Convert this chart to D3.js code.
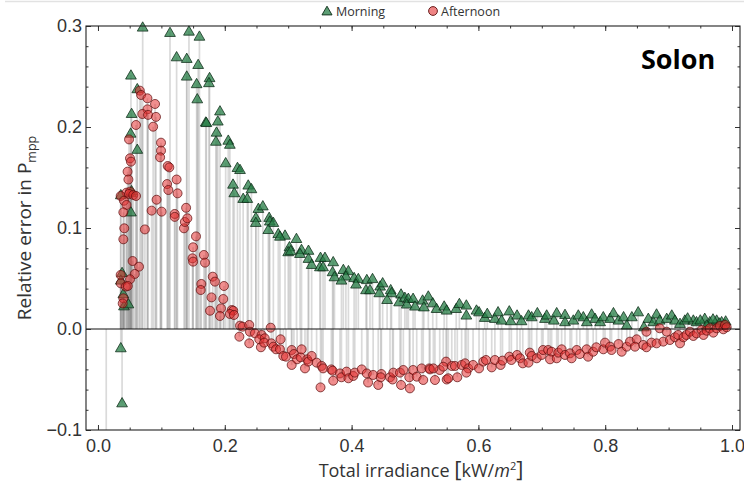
<!DOCTYPE html>
<html><head><meta charset="utf-8">
<script src="https://cdn.jsdelivr.net/npm/d3@7"></script>
<style>
html,body{margin:0;padding:0;background:#fff;}
svg{display:block;font-family:"Open Sans","DejaVu Sans",sans-serif;}
</style></head>
<body><svg id="c" width="744" height="492"></svg>
<script>
const seriesNames = ["Morning","Afternoon"];
const xTickLabels = [0.0,0.2,0.4,0.6,0.8,1.0];
const yTickLabels = [-0.1,0.0,0.1,0.2,0.3];

const morningX = [0.013,0.036,0.038,0.036,0.052,0.052,0.038,0.036,0.040,0.041,0.048,0.0705,0.052,0.062,0.053,0.0515,0.062,0.053,
0.1136,0.124,0.1435,0.160,0.140,0.140,0.158,0.1556,0.176,0.175,0.1566,0.1924,0.189,0.170,0.171,0.187,0.186,0.2055,0.208,0.2014,0.220,0.224,0.213,0.215,0.237,0.242,0.229,0.2355,0.253,0.260,0.249,0.249,0.270,0.271,0.2766,0.2686,0.2844,0.295,0.287,0.313,0.302,0.300,0.304,0.321,0.3186,0.332,0.332,0.337,0.351,0.358,0.350,0.355,0.371,0.370,0.373,0.387,0.395,0.391,0.384,0.404,0.4106,0.407,0.424,0.433,0.4227,0.429,0.445,0.449,0.4437,0.4617,0.463,0.456,0.478,0.475,0.484,0.4895,0.487,0.497,0.500,0.512,0.521,0.514,0.528,0.534,0.546,0.550,
0.565,0.570,0.581,0.581,0.597,0.601,0.610,0.614,0.626,0.631,0.6366,0.6487,0.651,0.661,0.668,0.679,0.684,0.693,0.705,0.7077,0.719,0.7235,0.7366,0.7366,0.7497,0.7576,0.7655,0.771,0.7786,0.784,0.792,0.797,0.8076,0.813,0.821,0.829,0.834,0.842,0.852,0.861,0.868,0.876,0.881,0.886,0.897,0.905,0.910,0.918,0.9256,0.939,0.944,0.957,0.965,0.9758,0.9836,0.989,0.93,0.95,0.97,0.98,0.96,0.99];
const morningY = [-0.15,-0.0185,-0.073,0.133,0.135,0.116,0.056,0.0485,0.035,0.023,0.025,0.299,0.2515,0.238,0.2135,0.194,0.178,0.137,
0.2937,0.2696,0.295,0.290,0.268,0.2505,0.262,0.243,0.249,0.244,0.228,0.216,0.206,0.205,0.2045,0.195,0.186,0.187,0.183,0.1647,0.160,0.158,0.1435,0.135,0.1426,0.139,0.1294,0.1294,0.1195,0.122,0.1105,0.1056,0.1106,0.107,0.1056,0.0986,0.0946,0.093,0.092,0.0897,0.0815,0.0766,0.0776,0.0788,0.0749,0.078,0.070,0.064,0.071,0.071,0.0617,0.0617,0.0667,0.0568,0.0518,0.059,0.0578,0.0525,0.0485,0.051,0.050,0.0446,0.049,0.050,0.039,0.039,0.0426,0.0458,0.036,0.039,0.036,0.0293,0.0347,0.027,0.0314,0.0304,0.0248,0.0304,0.0228,0.0287,0.0327,0.022,0.026,0.0204,0.0228,0.0188,
0.0204,0.0253,0.0238,0.0139,0.0188,0.0171,0.0116,0.0155,0.0106,0.0171,0.0089,0.018,0.0083,0.0139,0.0083,0.0139,0.0122,0.0162,0.0106,0.0139,0.0089,0.0162,0.0145,0.0073,0.0089,0.0139,0.0122,0.0073,0.0149,0.0106,0.0073,0.0122,0.0106,0.0162,0.0089,0.0122,0.004,0.0122,0.0171,0.0023,0.0106,0.0073,0.0149,0.0089,0.0106,0.0139,0.0089,0.0056,0.0089,0.0089,0.0073,0.0106,0.0073,0.0089,0.0073,0.005,0.011,0.009,0.010,0.006,0.004,0.008];

const afternoonX = [0.066,0.068,0.078,0.090,0.078,0.070,0.079,0.0915,0.087,0.060,0.049,0.0994,0.0994,0.098,0.0505,0.052,0.110,0.1125,0.0467,0.048,0.109,0.124,0.111,0.1255,0.0924,0.045,0.0505,
0.0358,0.049,0.0557,0.060,0.041,0.045,0.040,0.0415,0.040,0.0546,0.0647,0.058,0.0505,0.0358,0.036,0.044,0.047,0.040,0.039,0.074,0.0846,0.1004,0.121,0.121,0.1356,0.137,0.141,0.139,0.1546,0.150,0.149,0.150,0.167,0.1688,0.181,0.1845,0.163,0.162,0.179,0.1987,0.1976,0.1767,0.194,0.1924,0.211,0.2134,0.208,0.2145,0.224,0.223,
0.228,0.2386,0.2397,0.2476,0.2386,0.258,0.2544,0.263,0.2724,0.257,0.262,0.2735,0.2766,0.288,0.2808,0.287,0.2923,0.2965,0.3055,0.309,0.3055,0.314,0.3196,0.3212,0.3265,0.330,0.3317,0.337,0.3448,0.3527,0.351,0.355,0.368,0.371,0.370,0.3817,0.384,0.392,0.395,0.4027,0.405,0.416,0.424,0.426,0.434,0.442,0.447,0.446,0.4606,0.4646,0.4658,0.478,0.4763,0.4816,0.492,0.491,0.497,0.5027,0.5105,0.513,0.5225,0.5237,0.5315,0.539,0.549,0.550,
0.529,0.5446,0.5525,0.558,0.563,0.5667,0.5736,0.579,0.584,0.581,0.5916,0.601,0.6077,0.612,0.621,0.626,0.635,0.638,0.6487,0.652,0.661,0.6656,0.670,0.679,0.681,0.684,0.692,0.6997,0.702,0.710,0.7155,0.713,0.7235,0.726,0.7313,0.7366,0.7445,0.747,0.755,0.760,0.7707,0.773,0.781,0.786,0.797,0.7997,0.8076,0.810,0.821,0.826,0.834,0.839,0.8496,0.847,0.860,0.865,0.865,0.873,0.881,0.886,0.8916,0.897,0.902,0.910,0.915,0.918,0.9235,0.928,0.9337,0.939,0.944,0.952,0.955,0.960,0.965,0.9705,0.9758,0.981,0.9863,0.989,0.9916];
const afternoonY = [0.236,0.2317,0.2284,0.2228,0.2175,0.2129,0.212,0.210,0.2003,0.202,0.1877,0.1845,0.1766,0.170,0.169,0.1657,0.1614,0.160,0.1558,0.148,0.1435,0.148,0.1376,0.1343,0.128,0.135,0.136,
0.1317,0.1337,0.1327,0.1317,0.127,0.1228,0.1155,0.0997,0.0888,0.0673,0.0617,0.0545,0.0492,0.0535,0.0452,0.042,0.0426,0.0304,0.0253,0.0986,0.1172,0.1162,0.1139,0.111,0.0997,0.106,0.1096,0.120,0.0917,0.0809,0.070,0.0667,0.0733,0.0657,0.0518,0.0469,0.0446,0.0386,0.0313,0.0426,0.0297,0.0181,0.0204,0.0129,0.0188,0.0181,0.0149,0.0139,0.0033,-0.0076,
0.0023,0.004,-0.0027,-0.0043,-0.0142,-0.0059,-0.0102,-0.0092,0.0013,-0.0181,-0.0135,-0.0142,-0.0175,-0.0102,-0.0201,-0.0201,-0.0267,-0.0274,-0.0208,-0.0248,-0.0356,-0.030,-0.028,-0.0201,-0.039,-0.030,-0.0323,-0.0267,-0.0333,-0.0366,-0.0578,-0.039,-0.040,-0.0512,-0.0413,-0.044,-0.0478,-0.0422,-0.0488,-0.0465,-0.0432,-0.040,-0.044,-0.053,-0.0455,-0.0554,-0.0446,-0.0478,-0.0478,-0.050,-0.0432,-0.0554,-0.0432,-0.0406,-0.0588,-0.0478,-0.0406,-0.0472,-0.039,-0.0505,-0.039,-0.040,-0.0505,-0.0406,-0.0323,-0.050,
-0.039,-0.0373,-0.0488,-0.0366,-0.0366,-0.0478,-0.0356,-0.034,-0.039,-0.0432,-0.0356,-0.039,-0.0323,-0.0307,-0.038,-0.0307,-0.0356,-0.0313,-0.0274,-0.0307,-0.0257,-0.029,-0.034,-0.0333,-0.0234,-0.0267,-0.029,-0.0257,-0.0208,-0.0208,-0.0225,-0.030,-0.029,-0.0234,-0.0201,-0.0257,-0.0241,-0.029,-0.0208,-0.0248,-0.0201,-0.0274,-0.0225,-0.0181,-0.0201,-0.0135,-0.0175,-0.0208,-0.0149,-0.0225,-0.0175,-0.0125,-0.0102,-0.0175,-0.0158,-0.0181,-0.0027,-0.0135,-0.0142,0.0007,-0.0125,-0.0027,-0.0109,-0.0082,-0.0059,-0.0142,-0.0082,-0.0059,-0.0027,-0.0069,-0.0043,-0.001,-0.0059,-0.0017,0.0007,-0.0036,0.0007,0.003,-0.0003,0.004,0.0017];

const svg = d3.select("#c");
const L=86, R=740, T=26, B=430;
const x = d3.scaleLinear().domain([-0.0189, 1.0126]).range([L, R]);
const y = d3.scaleLinear().domain([-0.1, 0.3]).range([B, T]);

svg.append("line").attr("x1",5).attr("x2",744).attr("y1",1.5).attr("y2",1.5).attr("stroke","#e2e2e2").attr("stroke-width",1.5);

svg.append("defs").append("clipPath").attr("id","clip").append("rect").attr("x",L).attr("y",T-6).attr("width",R-L).attr("height",B-T+6);
const plot = svg.append("g").attr("clip-path","url(#clip)");

const morning = morningX.map((v,i)=>({x:v,y:morningY[i]}));
const afternoon = afternoonX.map((v,i)=>({x:v,y:afternoonY[i]}));

[morning, afternoon].forEach(data=>{
  plot.append("g").selectAll("line").data(data).join("line")
    .attr("x1",d=>x(d.x)).attr("x2",d=>x(d.x))
    .attr("y1",y(0)).attr("y2",d=>Math.min(y(d.y), B))
    .attr("stroke","#8c8c8c").attr("stroke-opacity",0.32).attr("stroke-width",1.7);
});

svg.append("line").attr("x1",L).attr("x2",R).attr("y1",y(0)).attr("y2",y(0)).attr("stroke","#111").attr("stroke-width",1.1);

const tri = d3.symbol().type(d3.symbolTriangle).size(50);
const greenFill="rgb(38,125,70)", greenStroke="#0c2a16";
const redFill="rgb(228,50,50)", redStroke="#5a0c0c";

plot.append("g").selectAll("path").data(morning).join("path")
  .attr("d",tri).attr("transform",d=>`translate(${x(d.x)},${y(d.y)+1})`)
  .attr("fill",greenFill).attr("fill-opacity",0.75).attr("stroke",greenStroke).attr("stroke-opacity",0.85).attr("stroke-width",0.9);

plot.append("g").selectAll("circle").data(afternoon).join("circle")
  .attr("cx",d=>x(d.x)).attr("cy",d=>y(d.y)).attr("r",4.5)
  .attr("fill",redFill).attr("fill-opacity",0.55).attr("stroke",redStroke).attr("stroke-opacity",0.8).attr("stroke-width",0.9);

const fmt = d3.format(".1f");
const xMinor = d3.range(0, 1.001, 0.05);
const yMinor = d3.range(-0.1, 0.3001, 0.02);
function axisStyle(g){ g.select(".domain").remove(); g.selectAll("line").attr("stroke","#333"); g.selectAll("text").attr("fill","#333").style("font-size","18px"); }

svg.append("g").attr("transform",`translate(0,${B})`).call(d3.axisBottom(x).tickValues(xMinor).tickSize(-2.5).tickFormat("")).call(axisStyle);
svg.append("g").attr("transform",`translate(0,${B})`).call(d3.axisBottom(x).tickValues(xTickLabels).tickSize(-5).tickPadding(9).tickFormat(fmt)).call(axisStyle);
svg.append("g").attr("transform",`translate(0,${T})`).call(d3.axisTop(x).tickValues(xMinor).tickSize(-2.5).tickFormat("")).call(axisStyle);
svg.append("g").attr("transform",`translate(0,${T})`).call(d3.axisTop(x).tickValues(xTickLabels).tickSize(-5).tickFormat("")).call(axisStyle);

svg.append("g").attr("transform",`translate(${L},0)`).call(d3.axisLeft(y).tickValues(yMinor).tickSize(-2.5).tickFormat("")).call(axisStyle);
svg.append("g").attr("transform",`translate(${L},0)`).call(d3.axisLeft(y).tickValues(yTickLabels).tickSize(-5).tickPadding(4).tickFormat(fmt)).call(axisStyle);
svg.append("g").attr("transform",`translate(${R},0)`).call(d3.axisRight(y).tickValues(yMinor).tickSize(-2.5).tickFormat("")).call(axisStyle);
svg.append("g").attr("transform",`translate(${R},0)`).call(d3.axisRight(y).tickValues(yTickLabels).tickSize(-5).tickFormat("")).call(axisStyle);

svg.append("rect").attr("x",L).attr("y",T).attr("width",R-L).attr("height",B-T).attr("fill","none").attr("stroke","#222").attr("stroke-width",1.1);

const xt = svg.append("text").attr("x",(L+R)/2+8).attr("y",477).attr("text-anchor","middle").attr("fill","#333").style("font-size","18px");
xt.append("tspan").text("Total irradiance ");
xt.append("tspan").text("[").style("font-size","22px");
xt.append("tspan").text("kW/");
xt.append("tspan").text("m").style("font-style","italic");
xt.append("tspan").text("2").attr("dy",-7).style("font-size","11px");
xt.append("tspan").text("]").attr("dy",7).style("font-size","22px");

const yt = svg.append("text").attr("transform",`translate(31,${(T+B)/2}) rotate(-90)`).attr("text-anchor","middle").attr("fill","#333").style("font-size","19px");
yt.append("tspan").text("Relative error in  P");
yt.append("tspan").text("mpp").attr("dy",5).style("font-size","12.5px");

svg.append("text").attr("x",641).attr("y",69).attr("fill","#000").style("font-size","27px").style("font-weight","bold").text("Solon");

const lg = svg.append("g");
lg.append("path").attr("d",d3.symbol().type(d3.symbolTriangle).size(44)).attr("transform","translate(327,12)")
  .attr("fill",greenFill).attr("fill-opacity",0.75).attr("stroke",greenStroke).attr("stroke-width",0.9);
lg.append("text").attr("x",336).attr("y",16).attr("fill","#333").style("font-size","12.5px").text(seriesNames[0]);
lg.append("circle").attr("cx",433).attr("cy",11).attr("r",4.4)
  .attr("fill",redFill).attr("fill-opacity",0.6).attr("stroke",redStroke).attr("stroke-width",0.9);
lg.append("text").attr("x",441).attr("y",16).attr("fill","#333").style("font-size","12.5px").text(seriesNames[1]);
</script></body></html>
